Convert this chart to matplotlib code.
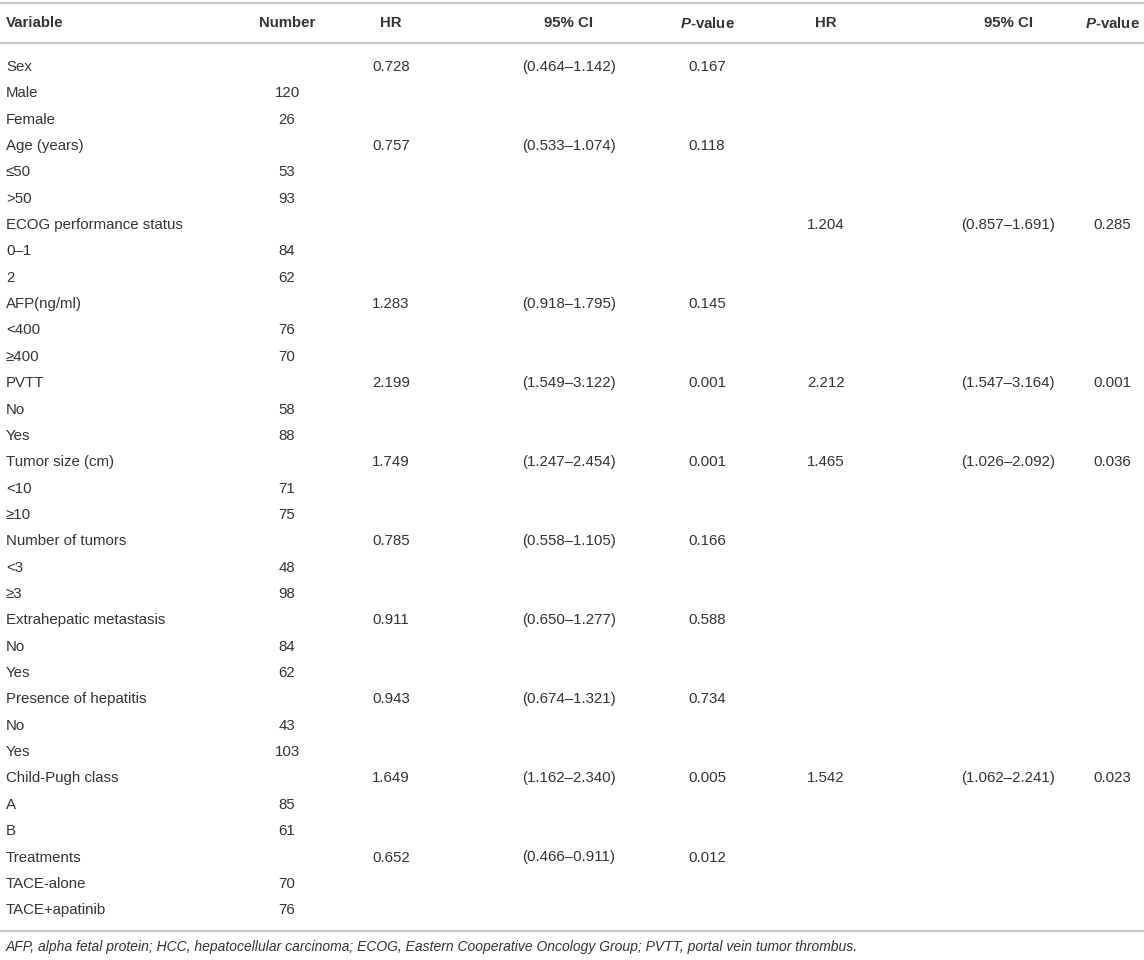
import matplotlib as mpl
import matplotlib.pyplot as plt

mpl.rcParams['font.family'] = ['Liberation Sans', 'DejaVu Sans']
mpl.rcParams['mathtext.fontset'] = 'custom'
mpl.rcParams['mathtext.it'] = 'Liberation Sans:italic:bold'
mpl.rcParams['mathtext.rm'] = 'Liberation Sans:bold'

headers = ['Variable', 'Number', 'HR', '95% CI', r'$\mathit{P}$-value',
           'HR', '95% CI', r'$\mathit{P}$-value']

variables = ['Sex', 'Male', 'Female', 'Age (years)', '≤50', '>50',
             'ECOG performance status', '0–1', '2', 'AFP(ng/ml)', '<400', '≥400',
             'PVTT', 'No', 'Yes', 'Tumor size (cm)', '<10', '≥10',
             'Number of tumors', '<3', '≥3', 'Extrahepatic metastasis', 'No', 'Yes',
             'Presence of hepatitis', 'No', 'Yes', 'Child-Pugh class', 'A', 'B',
             'Treatments', 'TACE-alone', 'TACE+apatinib']
numbers = ['', '120', '26', '', '53', '93', '', '84', '62', '', '76', '70',
           '', '58', '88', '', '71', '75', '', '48', '98', '', '84', '62',
           '', '43', '103', '', '85', '61', '', '70', '76']
hr_uni = ['0.728', '', '', '0.757', '', '', '', '', '', '1.283', '', '',
          '2.199', '', '', '1.749', '', '', '0.785', '', '', '0.911', '', '',
          '0.943', '', '', '1.649', '', '', '0.652', '', '']
ci_uni = ['(0.464–1.142)', '', '', '(0.533–1.074)', '', '', '', '', '',
          '(0.918–1.795)', '', '', '(1.549–3.122)', '', '', '(1.247–2.454)', '', '',
          '(0.558–1.105)', '', '', '(0.650–1.277)', '', '', '(0.674–1.321)', '', '',
          '(1.162–2.340)', '', '', '(0.466–0.911)', '', '']
p_uni = ['0.167', '', '', '0.118', '', '', '', '', '', '0.145', '', '',
         '0.001', '', '', '0.001', '', '', '0.166', '', '', '0.588', '', '',
         '0.734', '', '', '0.005', '', '', '0.012', '', '']
hr_multi = [''] * 6 + ['1.204'] + [''] * 5 + ['2.212', '', '', '1.465'] + [''] * 11 \
    + ['1.542'] + [''] * 5
ci_multi = [''] * 6 + ['(0.857–1.691)'] + [''] * 5 + ['(1.547–3.164)', '', '', '(1.026–2.092)'] \
    + [''] * 11 + ['(1.062–2.241)'] + [''] * 5
p_multi = [''] * 6 + ['0.285'] + [''] * 5 + ['0.001', '', '', '0.036'] + [''] * 11 \
    + ['0.023'] + [''] * 5

footnote = ('AFP, alpha fetal protein; HCC, hepatocellular carcinoma; ECOG, Eastern '
            'Cooperative Oncology Group; PVTT, portal vein tumor thrombus.')

W, H = 1144, 960
fig = plt.figure(figsize=(W / 100, H / 100), dpi=100)
ax = fig.add_axes([0, 0, 1, 1])
ax.set_xlim(0, W)
ax.set_ylim(H, 0)
ax.axis('off')

text_color = '#333333'
line_color = '#c4c4c4'
fs = 10.8

col_x = [6, 287, 391, 569, 707, 826, 1008, 1112]
col_ha = ['left'] + ['center'] * 7

header_y, row0, dy = 23, 67, 26.35
for x, ha, h in zip(col_x, col_ha, headers):
    ax.text(x, header_y, h, ha=ha, va='center', fontsize=fs, fontweight='bold',
            color=text_color)

columns = [variables, numbers, hr_uni, ci_uni, p_uni, hr_multi, ci_multi, p_multi]
for i in range(len(variables)):
    y = row0 + i * dy
    for x, ha, col in zip(col_x, col_ha, columns):
        if col[i]:
            ax.text(x, y, col[i], ha=ha, va='center', fontsize=fs, color=text_color)

last_y = row0 + (len(variables) - 1) * dy
for ly in [3, 43, last_y + 21]:
    ax.plot([0, W], [ly, ly], color=line_color, lw=1.6, solid_capstyle='butt')

ax.text(6, last_y + 37, footnote, ha='left', va='center', fontsize=10,
        style='italic', color=text_color)

fig.savefig('out.png', dpi=100)
